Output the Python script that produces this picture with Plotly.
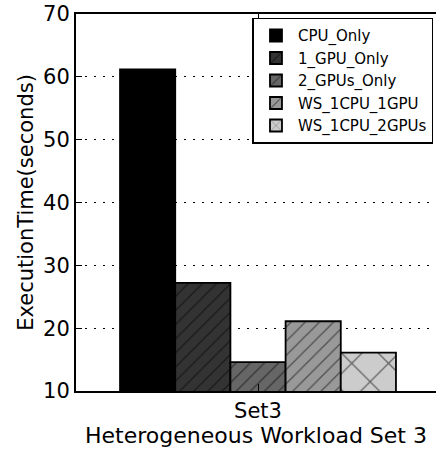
import plotly.graph_objects as go

categories = ["Set3"]
series_names = ["CPU_Only", "1_GPU_Only", "2_GPUs_Only", "WS_1CPU_1GPU", "WS_1CPU_2GPUs"]
series_values = [[61.2], [27.2], [14.6], [21.1], [16.1]]
fill_colors = ["#000000", "#333333", "#666666", "#999999", "#cccccc"]
patterns = ["", "/", "/", "/", "x"]
pattern_sizes = [8, 10, 10, 10, 26]
pattern_solidity = [0.1, 0.12, 0.12, 0.12, 0.1]
y_ticks = [10, 20, 30, 40, 50, 60, 70]

fig = go.Figure()
for name, vals, col, pat, ps, so in zip(series_names, series_values, fill_colors, patterns, pattern_sizes, pattern_solidity):
    fig.add_trace(go.Bar(
        x=categories, y=vals, name=name,
        marker=dict(color=col, line=dict(color="black", width=1.8),
                    pattern=dict(shape=pat, fgcolor="black", bgcolor=col, size=ps, solidity=so)),
    ))

font = "DejaVu Sans"
fig.update_layout(
    width=436, height=452,
    margin=dict(l=76, r=0, t=14, b=61),
    plot_bgcolor="white", paper_bgcolor="white",
    barmode="group", bargap=0.242, bargroupgap=0,
    font=dict(family=font, color="black", size=21),
    legend=dict(x=0.993, y=0.99, xanchor="right", yanchor="top",
                bordercolor="black", borderwidth=1.5, bgcolor="white",
                font=dict(size=15, family=font), tracegroupgap=0,
                itemwidth=34),
    showlegend=True,
)
fig.update_xaxes(
    type="category", range=[-0.5, 0.489],
    showline=True, linecolor="black", linewidth=2, mirror="ticks",
    ticks="inside", ticklen=7, tickcolor="black",
    showgrid=False,
    title=dict(text="Heterogeneous Workload Set 3", font=dict(size=22), standoff=2),
    tickfont=dict(size=21),
)
fig.update_yaxes(
    range=[10, 70], tickvals=y_ticks,
    showline=True, linecolor="black", linewidth=2,
    ticks="inside", ticklen=6, tickcolor="black",
    showgrid=True, gridcolor="black", griddash="2px,7px", gridwidth=1.2,
    title=dict(text="ExecutionTime(seconds)", font=dict(size=21), standoff=4),
    tickfont=dict(size=21), zeroline=False,
)
fig.write_html("out.html")
